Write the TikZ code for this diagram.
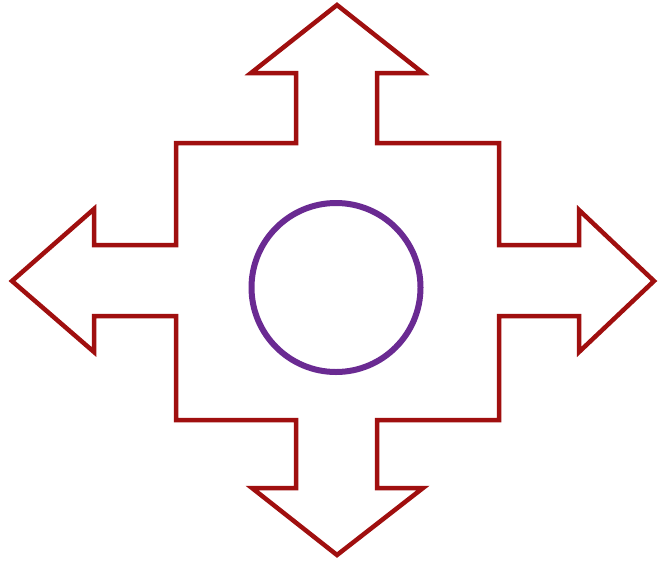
\documentclass[tikz,border=0pt]{standalone}
\begin{document}
\begin{tikzpicture}[x=1pt,y=-1pt,
  arrowline/.style={draw=arrowred,line width=4.5pt,line join=miter},
  ringline/.style={draw=ringpurple,line width=6pt}]
\definecolor{arrowred}{HTML}{A00F0F}
\definecolor{ringpurple}{HTML}{6A2A92}
\useasboundingbox (0,0) rectangle (660,565);
\fill[white] (0,0) rectangle (660,565);
\draw[arrowline]
  (337,5) -- (423,73) -- (377,73) -- (377,143) -- (499,143) -- (499,245)
  -- (579,245) -- (579,210) -- (654,281) -- (579,352) -- (579,316) -- (499,316)
  -- (499,420) -- (377,420) -- (377,488) -- (423,488) -- (337,555) -- (252,488)
  -- (296,488) -- (296,420) -- (176,420) -- (176,316) -- (94,316) -- (94,352)
  -- (12,281) -- (94,209) -- (94,245) -- (176,245) -- (176,143) -- (296,143)
  -- (296,73) -- (251,73) -- cycle;
\draw[ringline] (336,287.5) circle [radius=84.5];
\end{tikzpicture}
\end{document}
